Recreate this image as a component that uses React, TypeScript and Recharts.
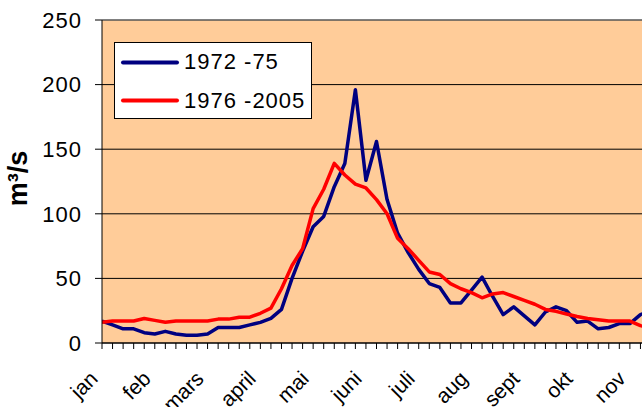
import { CartesianGrid, Line, LineChart, ReferenceLine, XAxis, YAxis } from 'recharts'

// weekly-ish mean discharge (5 points per month)
const months = ['jan', 'feb', 'mars', 'april', 'mai', 'juni', 'juli', 'aug', 'sept', 'okt', 'nov', 'des']

const flow7275 = [
  17, 14, 11, 11, 8, 7, 9, 7, 6, 6, 7, 12, 12, 12, 14, 16, 19, 26, 50, 71, 90, 98, 121, 139, 196, 126,
  156, 111, 85, 70, 57, 46, 43, 31, 31, 41, 51, 36, 22, 28, 21, 14, 24, 28, 25, 16, 17, 11, 12, 15, 15, 22, 25,
]

const flow7605 = [
  16, 17, 17, 17, 19, 17.5, 16, 17, 17, 17, 17, 18.5, 18.5, 20, 20, 23, 27, 42, 60, 73, 104, 119, 139, 130,
  123, 120, 111, 100, 81, 73, 64, 55, 53, 46, 42, 39, 35, 38, 39, 36, 33, 30, 26, 24.5, 22.5, 20.5, 19, 18, 17,
  17, 17, 13.5, 11,
]

const yTicks = [0, 50, 100, 150, 200, 250]

const seriesNames = ['1972 -75', '1976 -2005']
const seriesColors = ['#000080', '#FF0000']

const weeks = flow7275.map((_, i) => i)
const data = weeks.map((i) => ({ i, a: flow7275[i], b: flow7605[i] }))

const FONT = '"Liberation Sans", Arial, sans-serif'

function MonthTick(props: any) {
  const { x, y, payload } = props
  const i = payload.value as number
  if (i % 5 !== 0) return <g />
  const ax = Math.round(x - 3)
  const ay = Math.round(y + 29)
  return (
    <g transform={`translate(${ax} ${ay}) rotate(-45)`}>
      <text x={0} y={0} textAnchor="end" fontSize={21} fontFamily={FONT} fill="#000">
        {months[i / 5]}
      </text>
    </g>
  )
}

function ChartLegend() {
  return (
    <div
      style={{
        position: 'absolute',
        left: 114,
        top: 42,
        width: 196,
        height: 75,
        border: '1px solid #000',
        background: '#fff',
      }}
    >
      <svg width={196} height={75}>
        {seriesNames.map((name, k) => (
          <g key={name}>
            <line
              x1={8}
              x2={62}
              y1={19.5 + k * 38}
              y2={19.5 + k * 38}
              stroke={seriesColors[k]}
              strokeWidth={4}
              strokeLinecap="round"
            />
            <text x={69} y={26 + k * 39} fontSize={22} fontFamily={FONT} letterSpacing={1} fill="#000">
              {name}
            </text>
          </g>
        ))}
      </svg>
    </div>
  )
}

export default function App() {
  return (
    <div
      style={{
        position: 'absolute',
        left: 0,
        top: 0,
        width: 642,
        height: 407,
        overflow: 'hidden',
        background: '#fff',
      }}
    >
      <LineChart width={660} height={407} data={data} margin={{ top: 20, right: 9, bottom: 0, left: 0 }}>
        <CartesianGrid vertical={false} stroke="#000" fill="#FFCC99" fillOpacity={1} />
        <ReferenceLine y={250} stroke="#808080" />
        <XAxis
          type="number"
          dataKey="i"
          domain={[0, 52]}
          ticks={weeks}
          interval={0}
          tickSize={6}
          height={64}
          axisLine={{ stroke: '#000' }}
          tickLine={{ stroke: '#000' }}
          tick={MonthTick}
          allowDataOverflow
        />
        <YAxis
          domain={[0, 250]}
          ticks={yTicks}
          interval={0}
          width={102}
          tickSize={7}
          tickMargin={13}
          axisLine={{ stroke: '#000' }}
          tickLine={{ stroke: '#000' }}
          tick={{ fontSize: 22, fill: '#000', fontFamily: FONT, letterSpacing: 1 }}
          label={{
            content: () => (
              <text
                x={26.5}
                y={178.5}
                transform="rotate(-90 26.5 178.5)"
                textAnchor="middle"
                fontSize={27}
                fontWeight="bold"
                fontFamily={FONT}
                fill="#000"
              >
                m³/s
              </text>
            ),
          }}
        />
        <Line
          type="linear"
          dataKey="a"
          name={seriesNames[0]}
          stroke={seriesColors[0]}
          strokeWidth={3.5}
          strokeLinejoin="round"
          dot={false}
          isAnimationActive={false}
        />
        <Line
          type="linear"
          dataKey="b"
          name={seriesNames[1]}
          stroke={seriesColors[1]}
          strokeWidth={3.5}
          strokeLinejoin="round"
          dot={false}
          isAnimationActive={false}
        />
      </LineChart>
      <ChartLegend />
    </div>
  )
}
